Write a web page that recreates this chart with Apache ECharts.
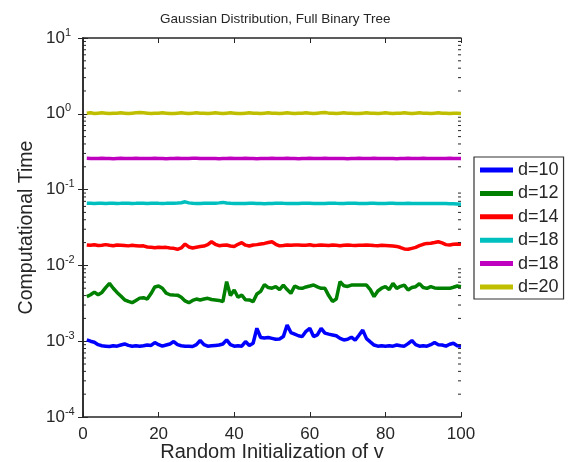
<!DOCTYPE html>
<html>
<head>
	<meta charset="utf-8" />
	<title>Gaussian Distribution, Full Binary Tree</title>
	<script src="https://cdn.jsdelivr.net/npm/echarts@6/dist/echarts.min.js"></script>
	<style>
		html, body { margin: 0; padding: 0; background: #fff; }
	</style>
</head>
<body>
	<div id="main" style="width: 577px;height: 462px;"></div>

	<script type="text/javascript">
		// one line per tree depth, 100 random initialisations each
		var names = ['d=10', 'd=12', 'd=14', 'd=18', 'd=18 ', 'd=20'];
		var colors = ['#0000ff', '#008000', '#ff0000', '#00bfbf', '#bf00bf', '#bfbf00'];
		var xTicks = [0, 20, 40, 60, 80, 100];

		var d10 = [0.00104,0.00100,0.00097,0.00090,0.00087,0.00086,0.00085,0.00087,0.00086,0.00089,
			0.00092,0.00088,0.00086,0.00087,0.00086,0.00087,0.00089,0.00088,0.00096,0.00090,
			0.00086,0.00089,0.00092,0.00099,0.00090,0.00087,0.00086,0.00086,0.00085,0.00090,
			0.00102,0.00090,0.00086,0.00087,0.00088,0.00089,0.00092,0.00104,0.00090,0.00086,
			0.00087,0.00086,0.00099,0.00088,0.00094,0.00148,0.00112,0.00110,0.00112,0.00109,
			0.00106,0.00107,0.00115,0.00164,0.00130,0.00124,0.00118,0.00115,0.00135,0.00148,
			0.00115,0.00121,0.00148,0.00128,0.00124,0.00121,0.00118,0.00109,0.00104,0.00106,
			0.00113,0.00103,0.00120,0.00140,0.00108,0.00098,0.00089,0.00086,0.00087,0.00086,
			0.00087,0.00086,0.00089,0.00087,0.00086,0.00093,0.00102,0.00090,0.00086,0.00087,
			0.00086,0.00090,0.00096,0.00090,0.00089,0.00086,0.00091,0.00094,0.00087,0.00086];

		var d12 = [0.00387,0.00410,0.00445,0.00410,0.00440,0.00510,0.00580,0.00500,0.00440,0.00395,
			0.00352,0.00335,0.00322,0.00345,0.00370,0.00375,0.00360,0.00425,0.00520,0.00535,
			0.00500,0.00430,0.00410,0.00407,0.00405,0.00380,0.00340,0.00322,0.00345,0.00360,
			0.00350,0.00360,0.00368,0.00355,0.00350,0.00345,0.00332,0.00610,0.00400,0.00474,
			0.00380,0.00405,0.00352,0.00350,0.00332,0.00420,0.00455,0.00560,0.00510,0.00500,
			0.00524,0.00480,0.00550,0.00480,0.00428,0.00535,0.00505,0.00498,0.00520,0.00535,
			0.00551,0.00520,0.00498,0.00498,0.00400,0.00335,0.00360,0.00610,0.00540,0.00528,
			0.00551,0.00551,0.00551,0.00551,0.00551,0.00480,0.00387,0.00460,0.00500,0.00524,
			0.00480,0.00580,0.00498,0.00530,0.00550,0.00474,0.00510,0.00524,0.00575,0.00510,
			0.00498,0.00524,0.00505,0.00498,0.00498,0.00500,0.00498,0.00515,0.00535,0.00524];

		var d14 = [0.0186,0.0184,0.0187,0.0183,0.0185,0.0188,0.0184,0.0182,0.0186,0.0185,
			0.0183,0.0181,0.0184,0.0182,0.0180,0.0181,0.0175,0.0173,0.0171,0.0174,
			0.0172,0.0173,0.0170,0.0168,0.0163,0.0170,0.0191,0.0175,0.0170,0.0174,
			0.0177,0.0180,0.0188,0.0205,0.0190,0.0182,0.0184,0.0186,0.0180,0.0178,
			0.0190,0.0199,0.0185,0.0180,0.0186,0.0188,0.0192,0.0195,0.0200,0.0205,
			0.0190,0.0181,0.0183,0.0186,0.0184,0.0186,0.0186,0.0184,0.0185,0.0187,
			0.0183,0.0184,0.0186,0.0185,0.0183,0.0186,0.0184,0.0182,0.0185,0.0186,
			0.0184,0.0183,0.0185,0.0184,0.0186,0.0185,0.0183,0.0182,0.0184,0.0183,
			0.0182,0.0180,0.0178,0.0172,0.0165,0.0163,0.0168,0.0173,0.0182,0.0190,
			0.0195,0.0196,0.0200,0.0205,0.0198,0.0188,0.0186,0.0190,0.0192,0.0190];

		var d18a = [0.0662,0.0660,0.0658,0.0661,0.0659,0.0657,0.0660,0.0662,0.0658,0.0659,
			0.0661,0.0660,0.0657,0.0659,0.0662,0.0660,0.0658,0.0661,0.0663,0.0660,
			0.0658,0.0659,0.0661,0.0660,0.0664,0.0672,0.0690,0.0668,0.0660,0.0657,
			0.0656,0.0659,0.0661,0.0663,0.0660,0.0668,0.0678,0.0666,0.0659,0.0656,
			0.0655,0.0657,0.0658,0.0660,0.0659,0.0657,0.0655,0.0653,0.0656,0.0658,
			0.0660,0.0662,0.0659,0.0657,0.0655,0.0654,0.0656,0.0659,0.0661,0.0660,
			0.0658,0.0656,0.0655,0.0658,0.0660,0.0662,0.0659,0.0657,0.0658,0.0660,
			0.0661,0.0659,0.0657,0.0656,0.0658,0.0660,0.0659,0.0657,0.0655,0.0657,
			0.0659,0.0660,0.0658,0.0656,0.0657,0.0659,0.0658,0.0656,0.0655,0.0657,
			0.0658,0.0656,0.0654,0.0655,0.0657,0.0656,0.0653,0.0650,0.0645,0.0640];

		var d18b = [0.259,0.258,0.257,0.258,0.259,0.258,0.257,0.256,0.258,0.259,
			0.258,0.257,0.258,0.259,0.258,0.257,0.258,0.258,0.259,0.258,
			0.257,0.256,0.257,0.258,0.259,0.258,0.257,0.258,0.259,0.260,
			0.258,0.257,0.258,0.258,0.257,0.256,0.257,0.258,0.259,0.258,
			0.257,0.258,0.259,0.258,0.257,0.256,0.257,0.258,0.258,0.259,
			0.258,0.257,0.258,0.259,0.258,0.257,0.256,0.257,0.258,0.259,
			0.258,0.257,0.258,0.259,0.258,0.257,0.258,0.258,0.257,0.256,
			0.257,0.258,0.259,0.258,0.257,0.258,0.259,0.258,0.257,0.258,
			0.258,0.257,0.256,0.257,0.258,0.259,0.258,0.257,0.258,0.259,
			0.258,0.257,0.258,0.258,0.257,0.258,0.259,0.258,0.257,0.257];

		var d20 = [1.02,1.03,1.01,1.02,1.03,1.02,1.01,1.02,1.02,1.03,
			1.02,1.01,1.02,1.03,1.04,1.03,1.02,1.01,1.02,1.02,
			1.03,1.02,1.01,1.01,1.02,1.03,1.02,1.01,1.02,1.03,
			1.02,1.02,1.01,1.02,1.03,1.02,1.01,1.02,1.03,1.02,
			1.01,1.01,1.02,1.03,1.02,1.02,1.01,1.02,1.03,1.02,
			1.02,1.01,1.02,1.03,1.02,1.01,1.02,1.02,1.03,1.02,
			1.01,1.02,1.03,1.04,1.02,1.02,1.01,1.02,1.03,1.02,
			1.02,1.01,1.01,1.02,1.03,1.02,1.02,1.01,1.02,1.03,
			1.02,1.01,1.02,1.02,1.03,1.02,1.01,1.02,1.03,1.02,
			1.02,1.01,1.02,1.03,1.02,1.02,1.01,1.02,1.02,1.01];

		var allData = [d10, d12, d14, d18a, d18b, d20];

		var myChart = echarts.init(document.getElementById("main"), null, {renderer: 'canvas'});

		var axisColor = '#262626';
		var font = 'Liberation Sans, Arial, sans-serif';

		// pairs [run, time]
		function pairs(arr) {
			var out = [];
			for (var i = 0; i < arr.length; i++) {
				out.push([i + 1, arr[i]]);
			}
			return out;
		}

		function supLabel(v) {
			var e = Math.round(Math.log(v) / Math.LN10);
			return '{b|10}{s|' + e + '}';
		}

		// MATLAB style minor ticks (2..9 per decade) on both sides of the box
		function renderMinor(params, api) {
			var cs = params.coordSys;
			var kids = [];
			for (var d = -4; d < 1; d++) {
				for (var k = 2; k <= 9; k++) {
					var y = api.coord([50, k * Math.pow(10, d)])[1];
					kids.push({type: 'line', shape: {x1: cs.x, y1: y, x2: cs.x + 3, y2: y},
						style: {stroke: axisColor, lineWidth: 1}});
					kids.push({type: 'line', shape: {x1: cs.x + cs.width - 3, y1: y, x2: cs.x + cs.width, y2: y},
						style: {stroke: axisColor, lineWidth: 1}});
				}
			}
			return {type: 'group', children: kids};
		}

		var series = [];
		for (var j = 0; j < names.length; j++) {
			series.push({
				name: names[j],
				type: 'line',
				data: pairs(allData[j]),
				showSymbol: false,
				symbol: 'none',
				animation: false,
				lineStyle: {width: 3.5, color: colors[j]},
				itemStyle: {color: colors[j]}
			});
		}
		series.push({
			type: 'custom',
			renderItem: renderMinor,
			data: [[50, 1]],
			silent: true,
			animation: false,
			z: 5
		});

		var option = {
			animation: false,
			title: {
				text: 'Gaussian Distribution, Full Binary Tree',
				left: 155,
				top: 7,
				textStyle: {fontFamily: font, fontSize: 13.5, fontWeight: 'normal', color: axisColor}
			},
			grid: {left: 83, right: 116, top: 38, bottom: 45, containLabel: false, outerBoundsMode: 'none'},
			legend: {
				orient: 'vertical',
				left: 474,
				top: 157,
				data: names,
				formatter: function (n) { return n.trim(); },
				icon: 'rect',
				itemWidth: 33,
				itemHeight: 5,
				itemGap: 5.4,
				padding: [4, 5, 3, 6],
				borderColor: '#333',
				borderWidth: 1.2,
				textStyle: {fontFamily: font, fontSize: 18, color: axisColor}
			},
			xAxis: [{
				type: 'value',
				min: 0,
				max: 100,
				interval: 20,
				name: 'Random Initialization of v',
				nameLocation: 'middle',
				nameGap: 25,
				nameMoveOverlap: false,
				nameTextStyle: {fontFamily: font, fontSize: 20, color: axisColor},
				axisLine: {lineStyle: {color: axisColor, width: 1.5}},
				axisTick: {inside: true, length: 5, lineStyle: {color: axisColor}},
				axisLabel: {fontFamily: font, fontSize: 17, color: axisColor, margin: 9},
				splitLine: {show: false}
			}, {
				type: 'value',
				position: 'top',
				min: 0,
				max: 100,
				interval: 20,
				axisLine: {lineStyle: {color: axisColor, width: 1.5}},
				axisTick: {inside: true, length: 5, lineStyle: {color: axisColor}},
				axisLabel: {show: false},
				splitLine: {show: false}
			}],
			yAxis: [{
				type: 'log',
				logBase: 10,
				min: 0.0001,
				max: 10,
				name: 'Computational Time',
				nameLocation: 'middle',
				nameGap: 46,
				nameMoveOverlap: false,
				nameTextStyle: {fontFamily: font, fontSize: 19.5, color: axisColor},
				axisLine: {show: true, lineStyle: {color: axisColor, width: 1.5}},
				axisTick: {show: true, inside: true, length: 5, lineStyle: {color: axisColor}},
				axisLabel: {
					margin: 37,
					align: 'left',
					formatter: supLabel,
					rich: {
						b: {fontFamily: font, fontSize: 17, color: axisColor, lineHeight: 22, verticalAlign: 'middle'},
						s: {fontFamily: font, fontSize: 11, color: axisColor, lineHeight: 22, verticalAlign: 'top'}
					}
				},
				splitLine: {show: false}
			}, {
				type: 'log',
				logBase: 10,
				min: 0.0001,
				max: 10,
				position: 'right',
				axisLine: {show: true, lineStyle: {color: axisColor, width: 1.5}},
				axisTick: {show: true, inside: true, length: 5, lineStyle: {color: axisColor}},
				axisLabel: {show: false},
				splitLine: {show: false}
			}],
			series: series
		};

		myChart.setOption(option);
	</script>
</body>
</html>
